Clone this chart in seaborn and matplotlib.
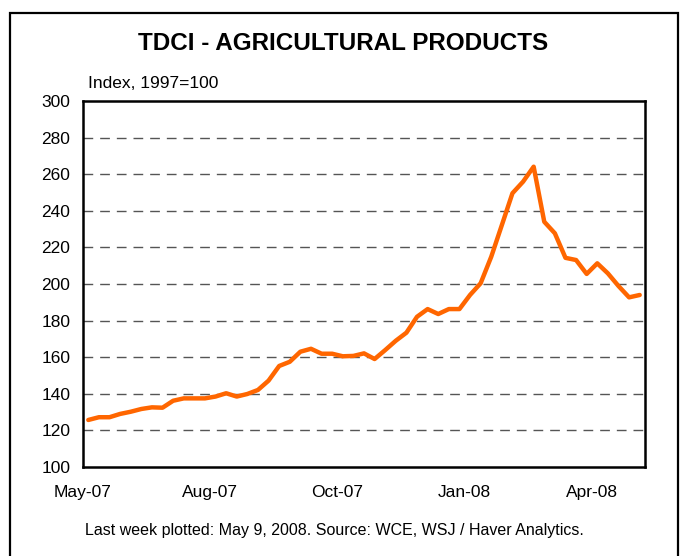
import numpy as np
import pandas as pd
import matplotlib
matplotlib.use("Agg")
import matplotlib.pyplot as plt
from matplotlib.patches import Rectangle
import seaborn as sns

# Weekly TDCI agricultural products index (1997 = 100)
index_values = [
    125.7, 127.2, 127.2, 129.0, 130.2, 131.7, 132.6, 132.4, 136.2, 137.5,
    137.5, 137.5, 138.5, 140.3, 138.5, 139.9, 142.1, 147.2, 155.2, 157.5,
    163.0, 164.6, 161.9, 161.9, 160.5, 160.7, 162.1, 159.0, 163.9, 169.0,
    173.4, 182.1, 186.3, 183.6, 186.3, 186.3, 194.0, 200.4, 214.9, 232.2,
    249.6, 255.9, 264.1, 234.0, 227.7, 214.3, 213.1, 205.5, 211.3, 205.8,
    198.9, 192.7, 194.0,
]
month_labels = ["May-07", "", "", "Aug-07", "", "", "Oct-07", "", "",
                "Jan-08", "", "", "Apr-08", ""]
y_ticks = [100, 120, 140, 160, 180, 200, 220, 240, 260, 280, 300]

title_text = "TDCI - AGRICULTURAL PRODUCTS"
unit_text = "Index, 1997=100"
source_text = "Last week plotted: May 9, 2008. Source: WCE, WSJ / Haver Analytics."

df = pd.DataFrame({"week": np.arange(len(index_values)), "value": index_values})

sns.set_theme(style="white")
plt.rcParams["font.family"] = ["Liberation Sans", "DejaVu Sans"]

fig = plt.figure(figsize=(6.85, 5.56), dpi=100)
ax = fig.add_axes([83 / 685, 1 - 467 / 556, 562 / 685, 366 / 556])

# outer frame of the chart panel
fig.patches.append(Rectangle((10 / 685, -0.1), 668 / 685, 1.1 - 13 / 556,
                             transform=fig.transFigure, fill=False,
                             edgecolor="black", linewidth=1.6, zorder=0))

for y in y_ticks[1:-1]:
    ax.axhline(y, color="#555555", linewidth=1.0, linestyle=(0, (7, 5)), zorder=1)

sns.lineplot(data=df, x="week", y="value", ax=ax, color="#FF6600",
             linewidth=3.2, zorder=3)

n = len(index_values)
ax.set_xlim(-0.5, n - 0.5)
ax.set_ylim(100, 300)
ax.set_yticks(y_ticks)
ax.set_yticklabels([str(v) for v in y_ticks], fontsize=12.5)
tick_pos = [-0.5 + 4 * k for k in range(len(month_labels))]
ax.set_xticks(tick_pos)
ax.set_xticklabels(month_labels, fontsize=12.5)
ax.set_xlabel("")
ax.set_ylabel("")
ax.tick_params(axis="both", direction="out", length=6, width=1.5,
               color="black", labelcolor="black", pad=3)
ax.tick_params(axis="x", pad=7)
for side in ["left", "right", "top", "bottom"]:
    ax.spines[side].set_visible(True)
    ax.spines[side].set_color("black")
    ax.spines[side].set_linewidth(1.8)

fig.text(343 / 685, 1 - 43 / 556, title_text, ha="center", va="center",
         fontsize=17.5, fontweight="bold", color="black")
fig.text(88 / 685, 1 - 83 / 556, unit_text, ha="left", va="center",
         fontsize=12.5, color="black")
fig.text(334 / 685, 1 - 531 / 556, source_text, ha="center", va="center",
         fontsize=11.5, color="black")

fig.savefig("out.png", dpi=100)
